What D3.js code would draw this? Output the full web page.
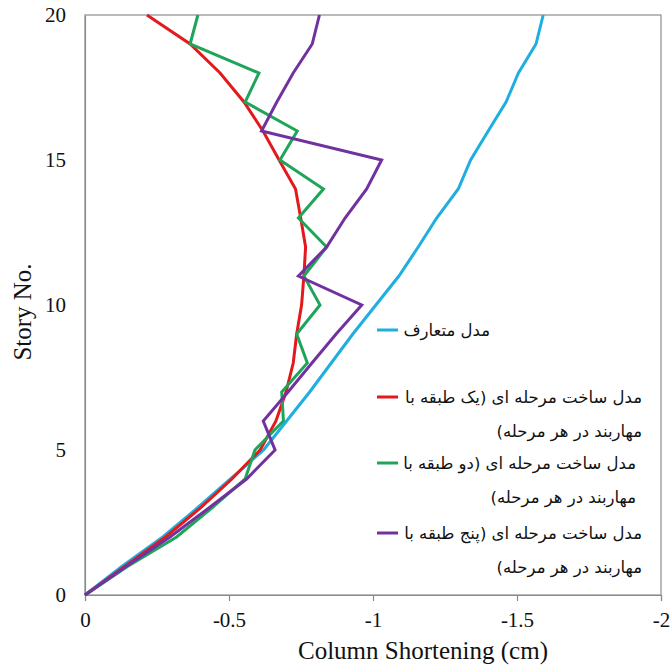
<!DOCTYPE html>
<html>
<head>
<meta charset="utf-8">
<script src="https://cdn.jsdelivr.net/npm/d3@7/dist/d3.min.js"></script>
<style>
  html, body { margin: 0; padding: 0; background: #fff; }
  svg { display: block; }
</style>
</head>
<body>
<svg id="chart" width="670" height="668"></svg>
<script>
// Story numbers (0 = base, 20 = roof)
const stories = d3.range(0, 21);

// Column shortening (cm) per story for each modelling approach
const conventional = [0, -0.13, -0.27, -0.39, -0.505, -0.62, -0.70, -0.78, -0.855, -0.93, -1.01,
  -1.09, -1.157, -1.221, -1.296, -1.339, -1.400, -1.462, -1.505, -1.566, -1.591];
const staged1 = [0, -0.14, -0.28, -0.40, -0.51, -0.608, -0.663, -0.698, -0.723, -0.735, -0.752,
  -0.760, -0.766, -0.749, -0.731, -0.674, -0.618, -0.552, -0.469, -0.365, -0.215];
const staged2 = [0, -0.15, -0.318, -0.44, -0.556, -0.590, -0.689, -0.683, -0.772, -0.735, -0.816,
  -0.760, -0.839, -0.741, -0.828, -0.677, -0.737, -0.556, -0.604, -0.365, -0.392];
const staged5 = [0, -0.145, -0.295, -0.43, -0.561, -0.660, -0.619, -0.705, -0.788, -0.872, -0.961,
  -0.741, -0.839, -0.903, -0.978, -1.03, -0.613, -0.666, -0.723, -0.789, -0.814];

// Axis ticks
const xTicks = [0, -0.5, -1, -1.5, -2];
const xTickLabels = ["0", "-0.5", "-1", "-1.5", "-2"];
const yTicks = [0, 5, 10, 15, 20];

// Legend entries (each label may wrap onto two lines)
const seriesNames = [
  ["مدل متعارف"],
  ["مدل ساخت مرحله ای (یک طبقه با", "مهاربند در هر مرحله)"],
  ["مدل ساخت مرحله ای (دو طبقه با", "مهاربند در هر مرحله)"],
  ["مدل ساخت مرحله ای (پنج طبقه با", "مهاربند در هر مرحله)"]
];
const seriesColors = ["#1EAEE0", "#E3191D", "#1EA55A", "#7132A0"];
const seriesValues = [conventional, staged1, staged2, staged5];

const svg = d3.select("#chart");
const plotLeft = 85, plotRight = 661, plotTop = 15, plotBottom = 595;

const x = d3.scaleLinear().domain([0, -2]).range([plotLeft, plotRight]);
const y = d3.scaleLinear().domain([0, 20]).range([plotBottom, plotTop]);

// Plot frame
svg.append("rect")
  .attr("x", plotLeft).attr("y", plotTop)
  .attr("width", plotRight - plotLeft).attr("height", plotBottom - plotTop)
  .attr("fill", "none").attr("stroke", "#8c8c8c").attr("stroke-width", 1.2);

// X axis
const xAxis = d3.axisBottom(x)
  .tickValues(xTicks)
  .tickFormat((d, i) => xTickLabels[i])
  .tickSize(6).tickPadding(11);
const gx = svg.append("g").attr("transform", `translate(0,${plotBottom})`).call(xAxis);
gx.select(".domain").attr("stroke", "#8c8c8c").attr("stroke-width", 1.2);
gx.selectAll(".tick line").attr("stroke", "#8c8c8c").attr("stroke-width", 1.2);
gx.selectAll(".tick text")
  .attr("font-family", "'Liberation Serif', 'Times New Roman', serif")
  .attr("font-size", 21).attr("fill", "#111");

// Y axis
const yAxis = d3.axisLeft(y).tickValues(yTicks).tickSize(0).tickPadding(19);
const gy = svg.append("g").attr("transform", `translate(${plotLeft},0)`).call(yAxis);
gy.select(".domain").attr("stroke", "#8c8c8c").attr("stroke-width", 1.2);
gy.selectAll(".tick text")
  .attr("font-family", "'Liberation Serif', 'Times New Roman', serif")
  .attr("font-size", 21).attr("fill", "#111");

// Axis titles
svg.append("text")
  .attr("x", 423).attr("y", 659)
  .attr("text-anchor", "middle")
  .attr("font-family", "'Liberation Serif', 'Times New Roman', serif")
  .attr("font-size", 25).attr("fill", "#111")
  .text("Column Shortening (cm)");
svg.append("text")
  .attr("transform", "translate(31,312) rotate(-90)")
  .attr("text-anchor", "middle")
  .attr("font-family", "'Liberation Serif', 'Times New Roman', serif")
  .attr("font-size", 25).attr("fill", "#111")
  .text("Story No.");

// Series lines
const line = d3.line()
  .x(d => x(d[0]))
  .y(d => y(d[1]));

seriesValues.forEach((vals, i) => {
  svg.append("path")
    .datum(vals.map((v, k) => [v, stories[k]]))
    .attr("fill", "none")
    .attr("stroke", seriesColors[i])
    .attr("stroke-width", 3)
    .attr("stroke-linejoin", "miter")
    .attr("d", line);
});

// Legend: marker on the left, right-to-left label block beside it
const legendRows = [330, 397, 463, 533];
const legendTextRight = [490, 642, 636, 642];
const lineGap = 34;
const legend = svg.append("g");
seriesNames.forEach((lines, i) => {
  const cy = legendRows[i];
  legend.append("line")
    .attr("x1", 377).attr("x2", 398)
    .attr("y1", cy).attr("y2", cy)
    .attr("stroke", seriesColors[i]).attr("stroke-width", 3);
  lines.forEach((t, j) => {
    legend.append("text")
      .attr("x", legendTextRight[i])
      .attr("y", cy + j * lineGap)
      .attr("dy", "0.35em")
      .attr("text-anchor", "end")
      .attr("font-family", "'DejaVu Sans', sans-serif")
      .attr("font-size", 16.5)
      .attr("fill", "#111")
      .text("\u200F" + t + "\u200F");
  });
});
</script>
</body>
</html>
